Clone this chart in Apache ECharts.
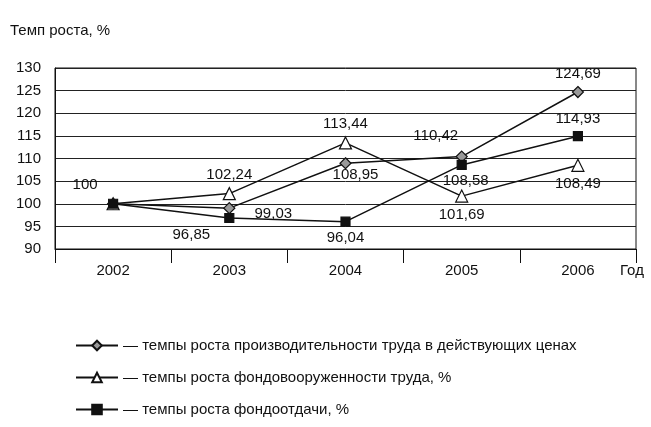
<!DOCTYPE html>
<html><head><meta charset="utf-8">
<script src="https://cdn.jsdelivr.net/npm/echarts@6/dist/echarts.min.js"></script>
<style>html,body{margin:0;background:#fff}#c{width:651px;height:427px}</style>
</head><body><div id="c"></div>
<script>
const years = ['2002', '2003', '2004', '2005', '2006'];
const productivity = [100, 99.03, 108.95, 110.42, 124.69];
const equipment = [100, 102.24, 113.44, 101.69, 108.49];
const capitalReturn = [100, 96.85, 96.04, 108.58, 114.93];
const yTicks = [90, 130, 5];

const fmt = v => String(v).replace('.', ',');
const font = 'Arial, Liberation Sans, sans-serif';

function series(name, data, symbol, size, color, dx, dy, skipFirst) {
  return {
    name, type: 'line', data, symbol, symbolSize: size,
    lineStyle: { color: '#111', width: 1.5 },
    itemStyle: { color, borderColor: '#111', borderWidth: 1.2 },
    label: { show: true, color: '#111', fontSize: 15, fontFamily: font,
      formatter: p => (skipFirst && p.dataIndex === 0) ? '' : fmt(p.value) },
    labelLayout: p => ({ dx: dx[p.dataIndex], dy: dy[p.dataIndex] }),
    emphasis: { disabled: true }
  };
}

const chart = echarts.init(document.getElementById('c'));
const s1 = series('— темпы роста производительности труда в действующих ценах', productivity, 'diamond', 11, '#999',
  [-28, 44, 10, -26, 0], [0, 24, 30, -2, 0], false);
const s2 = series('— темпы роста фондовооруженности труда, %', equipment, 'triangle', 12, '#fff',
  [0, 0, 0, 0, 0], [0, 0, 0, 38, 38], true);
const s3 = series('— темпы роста фондоотдачи, %', capitalReturn, 'rect', 9, '#111',
  [0, -38, 0, 4, 0], [0, 34, 34, 34, 0], true);

chart.setOption({
  animation: false,
  grid: { left: 55, right: 15, top: 68, bottom: 178, show: true, borderColor: '#111', borderWidth: 1, outerBoundsMode: 'none', containLabel: false },
  xAxis: {
    type: 'category', data: years, boundaryGap: true,
    name: 'Год', nameLocation: 'end', nameGap: -16,
    nameTextStyle: { color: '#111', fontSize: 15, fontFamily: font, verticalAlign: 'top', padding: [14, 0, 0, 0] },
    axisLine: { lineStyle: { color: '#111' } },
    axisTick: { show: true, length: 14, lineStyle: { color: '#111' } },
    axisLabel: { color: '#111', fontSize: 15, fontFamily: font, margin: 14 }
  },
  yAxis: {
    type: 'value', min: yTicks[0], max: yTicks[1], interval: yTicks[2],
    name: 'Темп роста, %', nameLocation: 'end', nameGap: 30,
    nameTextStyle: { color: '#111', fontSize: 15, fontFamily: font, align: 'left', padding: [0, 0, 0, -45] },
    axisLine: { show: true, lineStyle: { color: '#111' } },
    axisTick: { show: false },
    splitLine: { lineStyle: { color: '#222', width: 1 } },
    axisLabel: { color: '#111', fontSize: 15, fontFamily: font, margin: 14 }
  },
  legend: {
    orient: 'vertical', left: 70, top: 333, itemGap: 17, itemWidth: 42, itemHeight: 12,
    textStyle: { color: '#111', fontSize: 15, fontFamily: font },
    selectedMode: false
  },
  series: [s1, s2, s3]
});
</script></body></html>
